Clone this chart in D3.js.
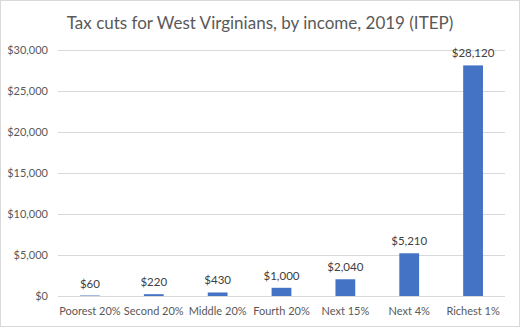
<!DOCTYPE html>
<html><head><meta charset="utf-8">
<script src="https://cdn.jsdelivr.net/npm/d3@7"></script>
<style>body{margin:0;background:#fff;} text{font-family:Lato,"Open Sans",sans-serif;}</style>
</head><body>
<svg id="c" width="520" height="327"></svg>
<script>
const categories = ["Poorest 20%","Second 20%","Middle 20%","Fourth 20%","Next 15%","Next 4%","Richest 1%"];
const values = [60,220,430,1000,2040,5210,28120];
const tickValues = [0,5000,10000,15000,20000,25000,30000];
const title = "Tax cuts for West Virginians, by income, 2019 (ITEP)";

const svg = d3.select("#c");
svg.append("rect").attr("x",0.5).attr("y",0.5).attr("width",519).attr("height",326)
  .attr("fill","#fff").attr("stroke","#d9d9d9");
const m = {l:58, r:15, t:50, b:31};
const W = 520, H = 327;
const x = d3.scaleBand().domain(categories).range([m.l, W-m.r]).paddingInner(0.69).paddingOuter(0.345);
const y = d3.scaleLinear().domain([0,30000]).range([H-m.b, m.t]);
const fmt = d => "$" + d3.format(",")(d);

svg.append("g").selectAll("line").data(tickValues).join("line")
  .attr("x1",m.l).attr("x2",W-m.r).attr("y1",d=>y(d)+0.5).attr("y2",d=>y(d)+0.5)
  .attr("stroke","#d9d9d9").attr("stroke-width",1);
svg.append("g").selectAll("text").data(tickValues).join("text")
  .attr("x",48).attr("y",d=>y(d)+4).attr("text-anchor","end")
  .attr("font-size",11).attr("fill","#595959").text(fmt);

svg.append("g").selectAll("rect").data(values).join("rect")
  .attr("x",(d,i)=>x(categories[i])).attr("width",x.bandwidth())
  .attr("y",d=>y(d)).attr("height",d=>y(0)-y(d)).attr("fill","#4472C4");
svg.append("g").selectAll("text").data(values).join("text")
  .attr("x",(d,i)=>x(categories[i])+x.bandwidth()/2).attr("y",d=>y(d)-8)
  .attr("text-anchor","middle").attr("font-size",11.5).attr("fill","#404040").text(fmt);
svg.append("g").selectAll("text").data(categories).join("text")
  .attr("x",d=>x(d)+x.bandwidth()/2).attr("y",315)
  .attr("text-anchor","middle").attr("font-size",11).attr("fill","#595959").text(d=>d);
svg.append("text").attr("x",260).attr("y",29).attr("text-anchor","middle")
  .attr("font-size",17).attr("fill","#595959").text(title);
</script>
</body></html>
